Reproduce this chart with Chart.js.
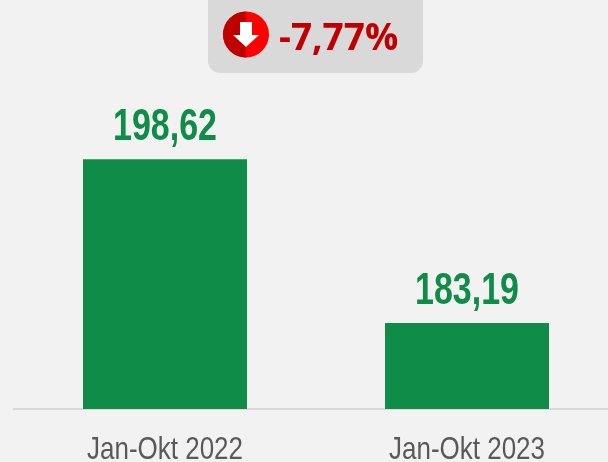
<!DOCTYPE html>
<html>
<head>
<meta charset="utf-8">
<style>
  html, body { margin: 0; padding: 0; background: #f2f2f2; overflow: hidden; }
  canvas { display: block; }
</style>
</head>
<body>
<canvas id="grafica" width="640" height="462"></canvas>
<script src="https://cdn.jsdelivr.net/npm/chart.js@4"></script>
<script>
const categorias = ["Jan-Okt 2022", "Jan-Okt 2023"];
const valores = [198.62, 183.19];
const etiquetas = ["198,62", "183,19"];
const cambio = "-7,77%";

const verde = "#0f8c47";

// no hay Arial Narrow instalada: se estrecha Liberation Sans a mano
function textoEstrecho(ctx, texto, x, y, escala) {
  ctx.save();
  ctx.translate(x, y);
  ctx.scale(escala, 1);
  ctx.fillText(texto, 0, 0);
  ctx.restore();
}

// etiquetas encima de cada barra y nombres de categoria debajo del eje
const textosBarras = {
  id: "textosBarras",
  afterDatasetsDraw(chart) {
    const ctx = chart.ctx;
    const ejeX = chart.scales.x;
    ctx.save();
    ctx.textAlign = "center";
    ctx.textBaseline = "alphabetic";
    chart.getDatasetMeta(0).data.forEach((barra, i) => {
      ctx.font = "bold 45px 'Liberation Sans'";
      ctx.fillStyle = verde;
      textoEstrecho(ctx, etiquetas[i], barra.x, barra.y - 19, 0.755);
      ctx.font = "32px 'Liberation Sans'";
      ctx.fillStyle = "#595959";
      textoEstrecho(ctx, categorias[i], ejeX.getPixelForTick(i), ejeX.top + 50, 0.812);
    });
    ctx.restore();
  }
};

// recuadro gris con la flecha y el porcentaje
const recuadro = {
  id: "recuadro",
  afterDraw(chart) {
    const ctx = chart.ctx;
    ctx.save();
    ctx.fillStyle = "#d9d9d9";
    ctx.beginPath();
    ctx.roundRect(208, -12, 215, 85, 12);
    ctx.fill();

    ctx.fillStyle = "#ff0000";
    ctx.beginPath();
    ctx.arc(246, 34.5, 23, 0, Math.PI * 2);
    ctx.fill();
    ctx.fillStyle = "#c00000";
    ctx.beginPath();
    ctx.arc(246, 34.5, 23, Math.PI / 2, Math.PI * 1.5);
    ctx.fill();

    ctx.fillStyle = "#ffffff";
    ctx.beginPath();
    ctx.moveTo(240, 22);
    ctx.lineTo(252, 22);
    ctx.lineTo(252, 35);
    ctx.lineTo(259, 35);
    ctx.lineTo(246, 47);
    ctx.lineTo(233, 35);
    ctx.lineTo(240, 35);
    ctx.closePath();
    ctx.fill();

    ctx.font = "bold 37px 'Open Sans'";
    ctx.fillStyle = "#c00000";
    ctx.textAlign = "left";
    ctx.textBaseline = "alphabetic";
    ctx.fillText(cambio, 279, 50);
    ctx.restore();
  }
};

new Chart(document.getElementById("grafica"), {
  type: "bar",
  data: {
    labels: categorias,
    datasets: [{
      data: valores,
      backgroundColor: verde,
      borderWidth: 0,
      barPercentage: 1,
      categoryPercentage: 0.543
    }]
  },
  options: {
    responsive: false,
    animation: false,
    layout: { padding: { left: 14, right: 22, top: 100, bottom: 0 } },
    plugins: { legend: { display: false }, tooltip: { enabled: false } },
    scales: {
      x: {
        grid: { display: false },
        border: { color: "#d9d9d9", width: 2 },
        ticks: { display: false },
        afterFit(eje) { eje.height = 53; }
      },
      y: { display: false, min: 175.1, max: 204.2 }
    }
  },
  plugins: [textosBarras, recuadro]
});
</script>
</body>
</html>
